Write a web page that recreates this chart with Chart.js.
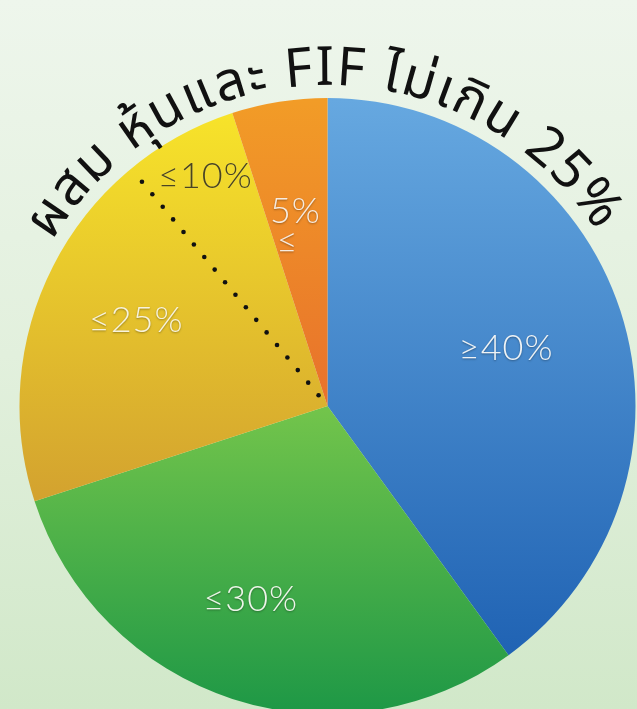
<!DOCTYPE html>
<html>
<head>
<meta charset="utf-8">
<script src="https://cdn.jsdelivr.net/npm/chart.js@4.4.1/dist/chart.umd.min.js"></script>
<style>
  html, body { margin:0; padding:0; width:637px; height:709px; overflow:hidden; }
  body { background: linear-gradient(to bottom, #eef6ec 0%, #e2f0dd 50%, #d1e8c9 100%); }
  canvas { display:block; }
</style>
</head>
<body>
<canvas id="c" width="637" height="709"></canvas>
<script>
// ---- data ----
const titleText = 'ผสม หุ้นและ FIF ไม่เกิน 25%';
const categories = ['≥40%', '≤30%', '≤25%', '5%'];
const values = [40, 30, 25, 5];
// share of the yellow slice that lies past the dotted line (the "≤10%" part)
const dottedSubShare = 6;
const dottedSubLabel = '≤10%';
const orangeSubLabel = '≤';

// ---- styles ----
const sliceGradients = [
  { y0: 100, y1: 660, c0: '#66a8e0', c1: '#1f62b3' },
  { y0: 410, y1: 712, c0: '#72c44b', c1: '#1e9846' },
  { y0: 115, y1: 500, c0: '#f7e32a', c1: '#d3a22f' },
  { y0: 100, y1: 400, c0: '#f29c27', c1: '#e8722b' }
];

const labelSpecs = [
  { text: () => categories[0], slice: 0, af: 0.50, rf: 0.61, color: '#eef3f6' },
  { text: () => categories[1], slice: 1, af: 0.534, rf: 0.675, color: '#eef6ea' },
  { text: () => categories[2], slice: 2, af: 0.467, rf: 0.68, color: '#f8f3dc' },
  { text: () => dottedSubLabel, slice: 2, af: 0.889, rf: 0.845, color: '#4a4420', shadow: false },
  { text: () => categories[3], slice: 3, af: 0.48, rf: 0.64, color: '#f7ece0' },
  { text: () => orangeSubLabel, slice: 3, af: 0.24, rf: 0.55, color: '#f7ece0' }
];

const labelPlugin = {
  id: 'labels',
  afterDatasetsDraw(chart) {
    const ctx = chart.ctx;
    const meta = chart.getDatasetMeta(0);
    // dotted line inside the yellow slice
    const ya = meta.data[2];
    const span = ya.endAngle - ya.startAngle;
    const ang = ya.endAngle - span * dottedSubShare / values[2];
    ctx.save();
    ctx.fillStyle = '#111';
    for (let r = 14; r <= ya.outerRadius - 10; r += 16.3) {
      ctx.beginPath();
      ctx.arc(ya.x + r * Math.cos(ang), ya.y + r * Math.sin(ang), 2.3, 0, Math.PI * 2);
      ctx.fill();
    }
    ctx.restore();

    ctx.save();
    ctx.font = '300 36px "Lato", "Open Sans", "Liberation Sans", sans-serif';
    ctx.textAlign = 'center';
    ctx.textBaseline = 'middle';
    if ('letterSpacing' in ctx) ctx.letterSpacing = '1px';
    labelSpecs.forEach(s => {
      const a = meta.data[s.slice];
      const t = a.startAngle + (a.endAngle - a.startAngle) * s.af;
      const r = a.outerRadius * s.rf;
      const x = a.x + r * Math.cos(t);
      const y = a.y + r * Math.sin(t);
      if (s.shadow === false) {
        ctx.shadowColor = 'rgba(255,255,200,0.4)';
        ctx.shadowBlur = 1;
      } else {
        ctx.shadowColor = 'rgba(0,0,0,0.35)';
        ctx.shadowBlur = 2;
        ctx.shadowOffsetY = 1;
      }
      ctx.fillStyle = s.color;
      ctx.fillText(s.text(), x, y);
      ctx.shadowOffsetY = 0;
    });
    ctx.restore();
  }
};

const curvedTitlePlugin = {
  id: 'curvedTitle',
  afterDraw(chart) {
    const ctx = chart.ctx;
    const a = chart.getDatasetMeta(0).data[0];
    const cx = a.x, cy = a.y;
    const R = a.outerRadius + 13;
    const startDeg = -59, endDeg = 57;
    const L = R * (endDeg - startDeg) * Math.PI / 180;
    let glyphs;
    if (typeof Intl !== 'undefined' && Intl.Segmenter) {
      glyphs = [...new Intl.Segmenter('th', { granularity: 'grapheme' }).segment(titleText)].map(s => s.segment);
    } else {
      glyphs = Array.from(titleText);
    }
    const fam = '"Noto Sans Thai", "Noto Sans Thai UI", Loma, Garuda, "Tlwg Typo", Tahoma, "Noto Sans", sans-serif';
    ctx.save();
    ctx.font = '54px ' + fam;
    const widths = glyphs.map(g => ctx.measureText(g).width);
    const W = widths.reduce((p, c) => p + c, 0);
    const extra = (L - W) / (glyphs.length - 1);
    ctx.fillStyle = '#111';
    ctx.textAlign = 'center';
    ctx.textBaseline = 'alphabetic';
    let s = 0;
    glyphs.forEach((g, i) => {
      const mid = s + widths[i] / 2;
      const ang = (startDeg * Math.PI / 180) + mid / R;
      ctx.save();
      ctx.translate(cx + R * Math.sin(ang), cy - R * Math.cos(ang));
      ctx.rotate(ang);
      ctx.fillText(g, 0, 0);
      ctx.restore();
      s += widths[i] + extra;
    });
    ctx.restore();
  }
};

new Chart(document.getElementById('c'), {
  type: 'pie',
  data: {
    labels: categories,
    datasets: [{
      data: values,
      borderWidth: 0,
      radius: 308,
      backgroundColor: (c) => {
        const g = sliceGradients[c.dataIndex];
        if (!g) return '#888';
        const grad = c.chart.ctx.createLinearGradient(0, g.y0, 0, g.y1);
        grad.addColorStop(0, g.c0);
        grad.addColorStop(1, g.c1);
        return grad;
      }
    }]
  },
  options: {
    responsive: false,
    animation: false,
    layout: { padding: { left: 19, right: 1, top: 103, bottom: 0 } },
    plugins: { legend: { display: false }, tooltip: { enabled: false }, title: { display: false } }
  },
  plugins: [labelPlugin, curvedTitlePlugin]
});
</script>
</body>
</html>
